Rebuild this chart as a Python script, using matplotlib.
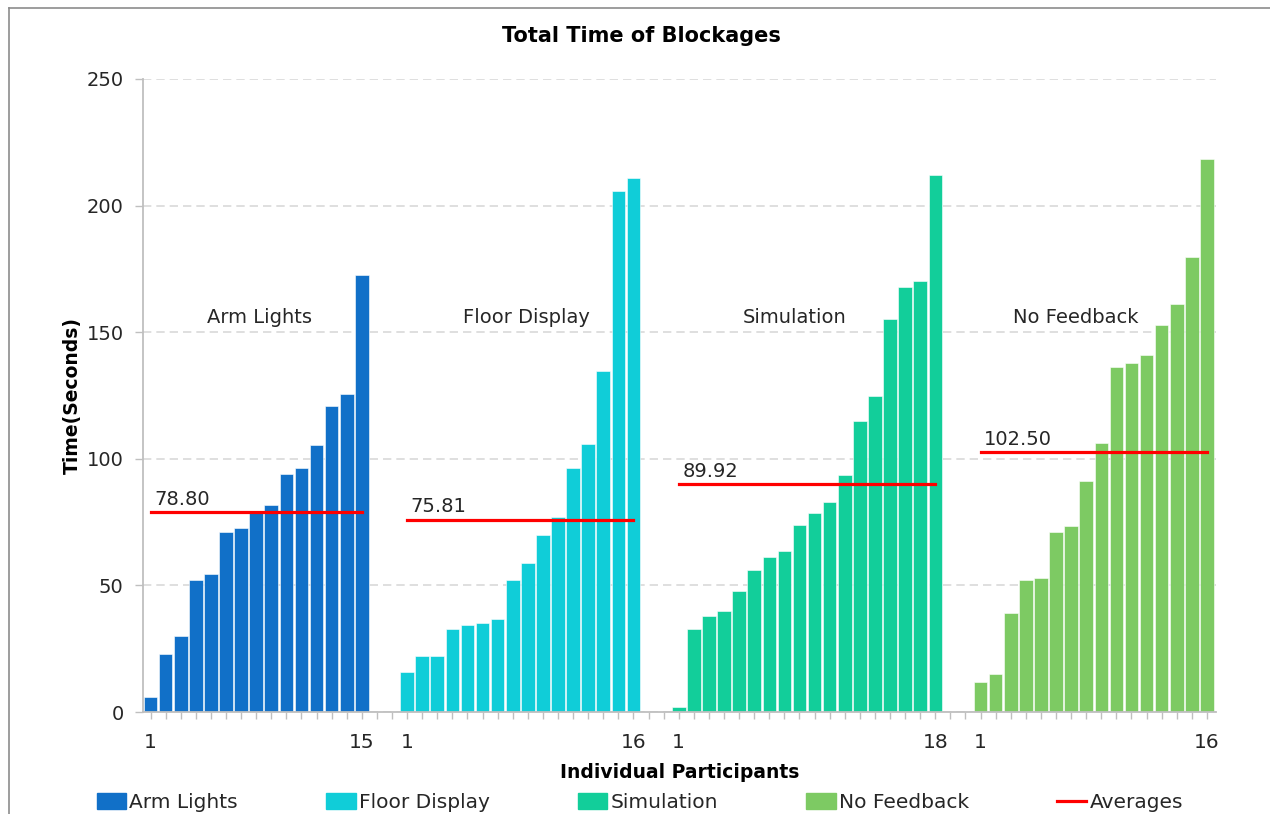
import matplotlib
matplotlib.use("Agg")
import matplotlib.pyplot as plt
from matplotlib.lines import Line2D
from matplotlib.patches import Patch

plt.rcParams['font.family'] = ['DejaVu Sans']

# values, sorted ascending per condition
groups = ['Arm Lights', 'Floor Display', 'Simulation', 'No Feedback']
arm_lights = [5.9, 22.9, 30.0, 52.2, 54.6, 71.2, 72.5, 78.6, 81.6, 94.1,
              96.2, 105.3, 120.7, 125.4, 172.4]
floor_display = [15.7, 22.1, 22.1, 32.8, 34.5, 35.2, 36.9, 52.0, 58.9, 70.1,
                 77.2, 96.3, 105.9, 134.6, 205.7, 210.8]
simulation = [2.0, 32.6, 38.1, 39.7, 47.6, 55.9, 61.4, 63.4, 73.9, 78.4,
              82.9, 93.7, 114.9, 124.9, 155.2, 167.7, 170.1, 212.1]
no_feedback = [11.9, 15.2, 39.0, 52.0, 52.8, 71.1, 73.5, 91.1, 106.4, 136.4,
               138.0, 141.0, 152.8, 161.0, 179.6, 218.3]
averages = [78.80, 75.81, 89.92, 102.50]
colors = ['#1170C8', '#10CDD8', '#12CE9A', '#7DCA63']

series = [arm_lights, floor_display, simulation, no_feedback]
# nudge of the group name from the group centre (in bar slots)
name_shift = [0.2, 0.4, -0.8, -1.2]

fig = plt.figure(figsize=(12.7, 8.14), dpi=100)
ax = fig.add_axes([143 / 1270, 102 / 814, 1073 / 1270, 633 / 814])

gap = 2
start = 0
tick_pos, tick_lab = [], []
all_pos = []
for name, vals, avg, col, sh in zip(groups, series, averages, colors, name_shift):
    xs = list(range(start, start + len(vals)))
    all_pos += xs
    ax.bar(xs, vals, width=0.9, color=col, edgecolor='white', linewidth=0.4, zorder=2)
    ax.plot([xs[0], xs[-1]], [avg, avg], color='#FF0000', lw=2.3, zorder=3)
    ax.text(xs[0] + 0.25, avg + 1.5, f'{avg:.2f}', fontsize=14, color='#262626',
            ha='left', va='bottom', zorder=4)
    cx = (xs[0] + xs[-1]) / 2 + sh
    ax.text(cx, 156, name, fontsize=14, color='#262626', ha='center', va='center')
    tick_pos += [xs[0], xs[-1]]
    tick_lab += ['1', str(len(vals))]
    all_pos += list(range(start + len(vals), start + len(vals) + gap))
    start += len(vals) + gap

ax.set_xlim(-0.5, start - gap - 0.4)
ax.set_ylim(0, 250)
ax.set_yticks(range(0, 251, 50))
ax.tick_params(axis='y', labelsize=14, colors='#262626', length=6, width=1, color='#BFBFBF', pad=8)
ax.set_xticks(tick_pos)
ax.set_xticklabels(tick_lab, fontsize=14.5, color='#262626')
ax.set_xticks([p for p in all_pos if p < start - gap], minor=True)
ax.tick_params(axis='x', which='both', length=5, width=1, color='#BFBFBF', pad=10)

ax.grid(axis='y', color='#D9D9D9', linestyle=(0, (5, 3)), lw=1.2, zorder=0)
for s in ['top', 'right']:
    ax.spines[s].set_visible(False)
for s in ['left', 'bottom']:
    ax.spines[s].set_color('#BFBFBF')
    ax.spines[s].set_linewidth(1.3)

ax.set_ylabel('Time(Seconds)', fontsize=13.5, fontweight='bold', labelpad=3)
ax.set_xlabel('Individual Participants', fontsize=13.5, fontweight='bold', labelpad=8)
fig.text(0.505, 1 - 36 / 814, 'Total Time of Blockages', fontsize=15,
         fontweight='bold', ha='center', va='center')

handles = [Patch(color=c) for c in colors] + [Line2D([], [], color='#FF0000', lw=2.3)]
labels = groups + ['Averages']
fig.legend(handles, labels, loc='lower left', ncol=5, mode='expand',
           bbox_to_anchor=(79 / 1270, -16 / 814, 1122 / 1270, 20 / 814),
           frameon=False, fontsize=14.5, handlelength=1.45, handleheight=0.8,
           handletextpad=0.15, labelcolor='#262626')

# outer chart border (left and top only visible)
fig.add_artist(Line2D([9 / 1270, 9 / 1270], [0, 1 - 8 / 814], color='#8C8C8C', lw=1.2))
fig.add_artist(Line2D([9 / 1270, 1], [1 - 8 / 814, 1 - 8 / 814], color='#8C8C8C', lw=1.2))

fig.savefig('out.png', dpi=100)
